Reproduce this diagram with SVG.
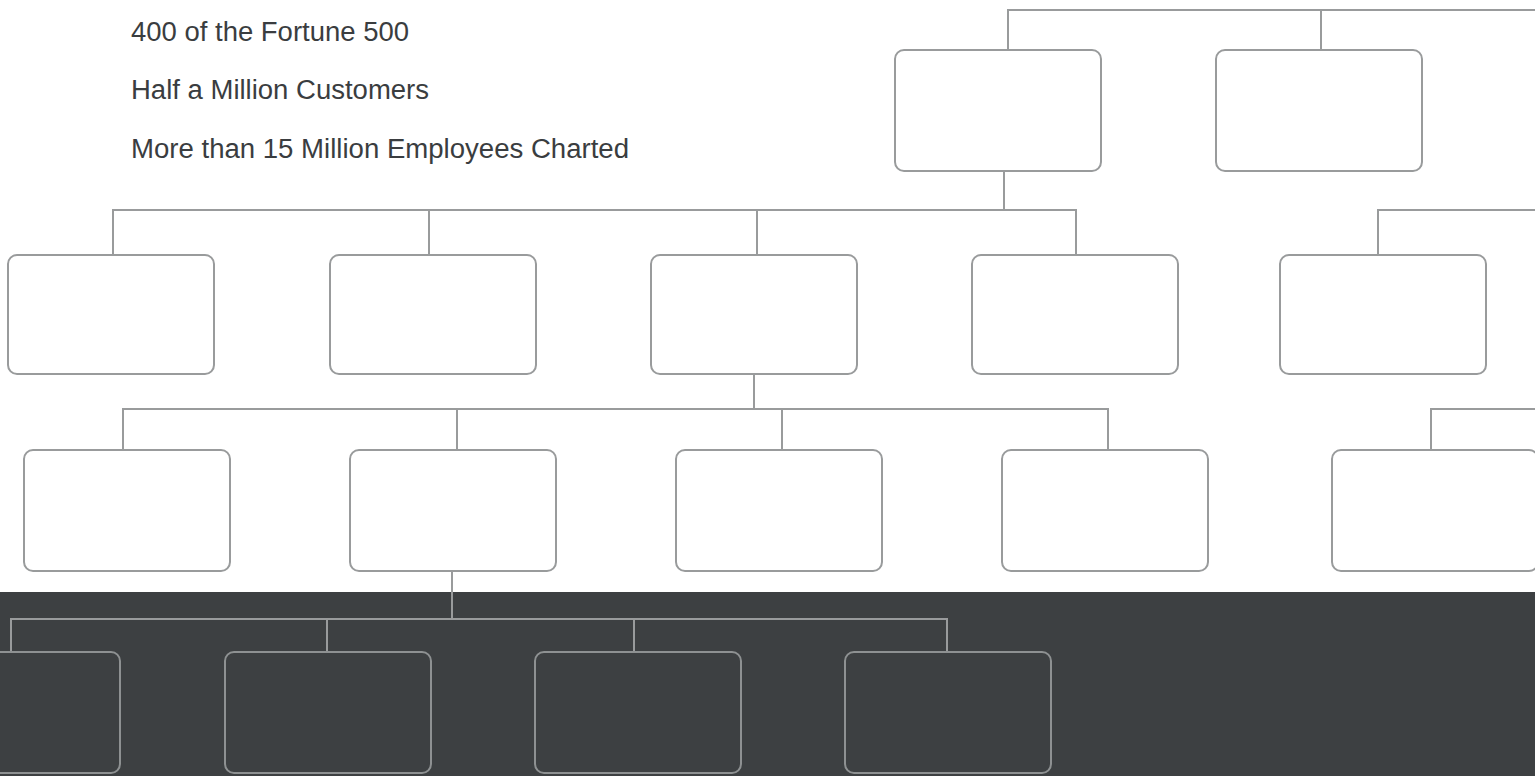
<svg xmlns="http://www.w3.org/2000/svg" width="1535" height="776" viewBox="0 0 1535 776">
<style>
.n{fill:#fff;stroke:#999b9c;stroke-width:2}
.d{fill:#3d4042;stroke:#8e9192;stroke-width:2}
.c{fill:none;stroke:#999b9c;stroke-width:2}
.t{font-family:"Liberation Sans",Arial,sans-serif;font-size:27px;fill:#3a3d40}
</style>
<rect x="0" y="0" width="1535" height="776" fill="#fff"/>
<rect id="band" x="0" y="592" width="1535" height="184" fill="#3d4042"/>
<g id="texts">
<text class="t" x="131" y="41" textLength="278" lengthAdjust="spacingAndGlyphs">400 of the Fortune 500</text>
<text class="t" x="131" y="99" textLength="298" lengthAdjust="spacingAndGlyphs">Half a Million Customers</text>
<text class="t" x="131" y="158" textLength="498" lengthAdjust="spacingAndGlyphs">More than 15 Million Employees Charted</text>
</g>
<g id="connectors">
<path class="c" d="M1535 10H1008V50M1321 10V50"/>
<path class="c" d="M1004 171V210M113 255V210H1076V255M429 210V255M757 210V255"/>
<path class="c" d="M1535 210H1378V255"/>
<path class="c" d="M754 374V409M123 450V409H1108V450M457 409V450M782 409V450"/>
<path class="c" d="M1535 409H1431V450"/>
<path class="c" d="M452 571V619M11 652V619H947V652M327 619V652M634 619V652" stroke="#8e9192"/>
</g>
<g id="n1"><rect class="n" x="895" y="50" width="206" height="121" rx="9"/></g>
<g id="n2"><rect class="n" x="1216" y="50" width="206" height="121" rx="9"/></g>
<g id="n3"><rect class="n" x="8" y="255" width="206" height="119" rx="9"/></g>
<g id="n4"><rect class="n" x="330" y="255" width="206" height="119" rx="9"/></g>
<g id="n5"><rect class="n" x="651" y="255" width="206" height="119" rx="9"/></g>
<g id="n6"><rect class="n" x="972" y="255" width="206" height="119" rx="9"/></g>
<g id="n7"><rect class="n" x="1280" y="255" width="206" height="119" rx="9"/></g>
<g id="n8"><rect class="n" x="24" y="450" width="206" height="121" rx="9"/></g>
<g id="n9"><rect class="n" x="350" y="450" width="206" height="121" rx="9"/></g>
<g id="n10"><rect class="n" x="676" y="450" width="206" height="121" rx="9"/></g>
<g id="n11"><rect class="n" x="1002" y="450" width="206" height="121" rx="9"/></g>
<g id="n12"><rect class="n" x="1332" y="450" width="206" height="121" rx="9"/></g>
<g id="n13"><rect class="d" x="-86" y="652" width="206" height="121" rx="9"/></g>
<g id="n14"><rect class="d" x="225" y="652" width="206" height="121" rx="9"/></g>
<g id="n15"><rect class="d" x="535" y="652" width="206" height="121" rx="9"/></g>
<g id="n16"><rect class="d" x="845" y="652" width="206" height="121" rx="9"/></g>
</svg>
